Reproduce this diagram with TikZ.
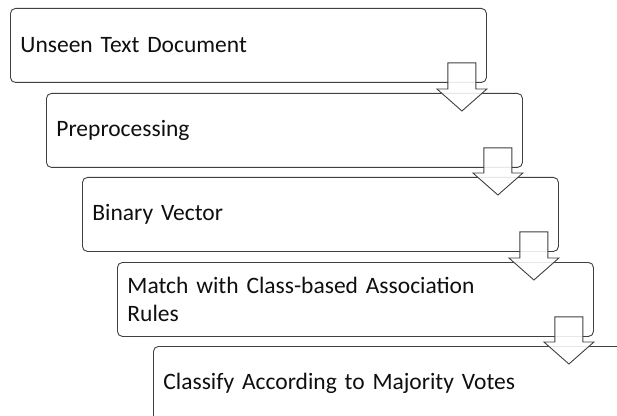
\documentclass[tikz,border=0pt]{standalone}
\usepackage{fontspec}
\setmainfont{Carlito}
\usetikzlibrary{calc}
\definecolor{linegray}{RGB}{64,64,64}
\definecolor{txt}{RGB}{15,15,15}
\newcommand\flowarrow[2]{%
  \draw[blockarrow] let \p1=(#1.south east), \p2=(#2.north) in
    (\x1-39pt,\y1+20pt) -- (\x1-11pt,\y1+20pt) -- (\x1-11pt,\y2+4pt) --
    (\x1,\y2+4pt) -- (\x1-25pt,\y2-18pt) -- (\x1-50pt,\y2+4pt) --
    (\x1-39pt,\y2+4pt) -- cycle;}
\begin{document}
\begin{tikzpicture}[x=1pt,y=1pt,
  stepbox/.style={draw=linegray, line width=0.9pt, rounded corners=5pt, fill=white,
    minimum width=476pt, minimum height=74pt, text width=456pt, inner xsep=10pt,
    inner ysep=0pt, align=left, anchor=north west,
    font=\fontsize{23.5}{28}\selectfont, text=txt},
  blockarrow/.style={draw=linegray, line width=0.9pt, fill=white, fill opacity=0.88,
    line join=miter}]
\useasboundingbox (0,0) rectangle (617,415);
\clip (0,0) rectangle (617,415);
\node[stepbox] (b1) at (10,407) {Unseen Text Document};
\node[stepbox] (b2) at (46,322) {Preprocessing};
\node[stepbox] (b3) at (82,238) {Binary Vector};
\node[stepbox] (b4) at (117,153) {Match with Class-based Association\\Rules};
\node[stepbox] (b5) at (153,69) {Classify According to Majority Votes};
\flowarrow{b1}{b2}
\flowarrow{b2}{b3}
\flowarrow{b3}{b4}
\flowarrow{b4}{b5}
\end{tikzpicture}
\end{document}
